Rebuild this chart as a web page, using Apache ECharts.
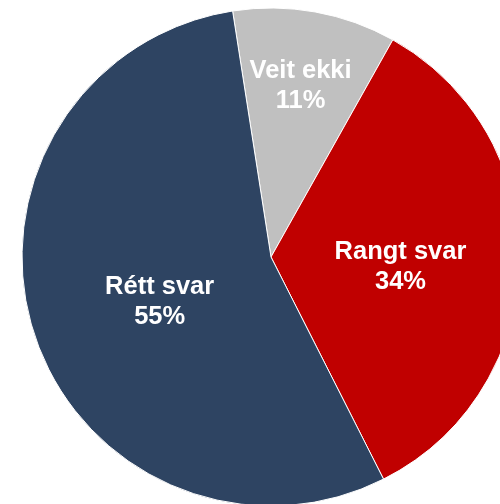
<!DOCTYPE html>
<html>
<head>
<meta charset="utf-8">
<script src="https://cdn.jsdelivr.net/npm/echarts@6/dist/echarts.min.js"></script>
<style>html,body{margin:0;padding:0;background:#fff;}#c{width:500px;height:504px;}</style>
</head>
<body>
<div id="c"></div>
<script>
const categories = ['Veit ekki', 'Rangt svar', 'Rétt svar'];
const values = [10.6, 34.4, 55.0];
const percentLabels = ['11%', '34%', '55%'];
const colors = ['#C0C0C0', '#C00000', '#2E4462'];
const labelShift = [[7, -46], [2, 7], [10, 6]];

const chart = echarts.init(document.getElementById('c'), null, {renderer: 'canvas'});
chart.setOption({
  animation: false,
  backgroundColor: '#ffffff',
  series: [{
    type: 'pie',
    center: [271, 257],
    radius: 249,
    startAngle: 98.87,
    clockwise: true,
    avoidLabelOverlap: false,
    itemStyle: {borderColor: '#ffffff', borderWidth: 1},
    label: {
      position: 'inside',
      color: '#ffffff',
      fontFamily: 'Liberation Sans, Arial, sans-serif',
      fontWeight: 'bold',
      fontSize: 25.5,
      lineHeight: 30,
      formatter: p => p.name + '\n' + percentLabels[p.dataIndex]
    },
    labelLine: {show: false},
    labelLayout: p => ({dx: labelShift[p.dataIndex][0], dy: labelShift[p.dataIndex][1]}),
    emphasis: {disabled: true},
    data: categories.map((n, i) => ({name: n, value: values[i], itemStyle: {color: colors[i]}}))
  }]
});
</script>
</body>
</html>
